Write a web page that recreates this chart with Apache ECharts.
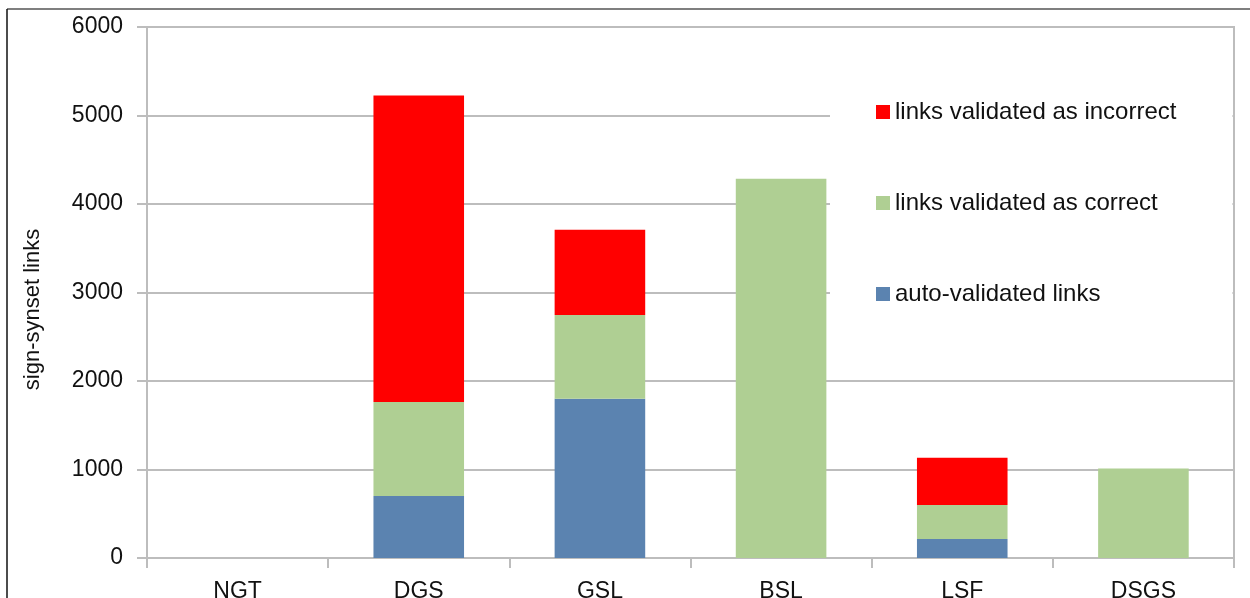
<!DOCTYPE html>
<html>
<head>
<meta charset="utf-8">
<script src="https://cdn.jsdelivr.net/npm/echarts@6/dist/echarts.min.js"></script>
<style>
  html, body { margin: 0; padding: 0; background: #fff; }
  #chart { width: 1250px; height: 598px; }
</style>
</head>
<body>
<div id="chart"></div>
<script>
// categories and stacked values
var categories = ['NGT', 'DGS', 'GSL', 'BSL', 'LSF', 'DSGS'];
var autoValidated = [0, 700, 1800, 0, 215, 0];
var validatedCorrect = [0, 1063, 945, 4285, 385, 1010];
var validatedIncorrect = [0, 3462, 965, 0, 533, 0];
var yTicks = [0, 1000, 2000, 3000, 4000, 5000, 6000];

var fontFam = 'Helvetica, Arial, "Liberation Sans", sans-serif';
var chart = echarts.init(document.getElementById('chart'));

var option = {
    animation: false,
    backgroundColor: '#fff',
    textStyle: { fontFamily: fontFam },
    grid: {
        left: 147, right: 16, top: 27, bottom: 40,
        show: true, borderColor: '#bdbdbd', borderWidth: 2,
        containLabel: false,
        outerBoundsMode: 'none'
    },
    legend: {
        orient: 'vertical',
        left: 830, top: 70,
        padding: [30, 56, 36, 46],
        backgroundColor: '#fff',
        icon: 'rect',
        itemWidth: 14, itemHeight: 14, itemGap: 67, itemTextGap: 7,
        textStyle: { fontSize: 24, color: '#111', fontFamily: fontFam },
        data: ['links validated as incorrect', 'links validated as correct', 'auto-validated links']
    },
    xAxis: {
        type: 'category',
        data: categories,
        axisLine: { lineStyle: { color: '#bdbdbd', width: 2 } },
        axisTick: { show: true, length: 10, lineStyle: { color: '#bdbdbd', width: 2 } },
        axisLabel: { fontSize: 23, color: '#111', margin: 22 }
    },
    yAxis: {
        type: 'value',
        min: yTicks[0], max: yTicks[yTicks.length - 1], interval: 1000,
        name: 'sign-synset links',
        nameLocation: 'middle',
        nameGap: 103,
        nameTextStyle: { fontSize: 22, color: '#111', padding: [0, 34, 0, 0] },
        axisLine: { show: true, lineStyle: { color: '#bdbdbd', width: 2 } },
        axisTick: { show: true, length: 10, lineStyle: { color: '#bdbdbd', width: 2 } },
        axisLabel: {
            fontSize: 23, color: '#111', margin: 24,
            formatter: function (v) { return String(v); }
        },
        splitLine: { lineStyle: { color: '#bdbdbd', width: 2 } }
    },
    series: [
        {
            name: 'auto-validated links', type: 'bar', stack: 'all',
            barWidth: '50%', data: autoValidated,
            itemStyle: { color: '#5b83b0' }
        },
        {
            name: 'links validated as correct', type: 'bar', stack: 'all',
            barWidth: '50%', data: validatedCorrect,
            itemStyle: { color: '#afcf93' }
        },
        {
            name: 'links validated as incorrect', type: 'bar', stack: 'all',
            barWidth: '50%', data: validatedIncorrect,
            itemStyle: { color: '#ff0000' }
        }
    ],
    graphic: [
        // outer frame edges seen at the top and left of the picture
        { type: 'line', shape: { x1: 7, y1: 9, x2: 1250, y2: 9 }, style: { stroke: '#555', lineWidth: 1.5 } },
        { type: 'line', shape: { x1: 7, y1: 9, x2: 7, y2: 598 }, style: { stroke: '#111', lineWidth: 1.5 } }
    ]
};

chart.setOption(option);
</script>
</body>
</html>
